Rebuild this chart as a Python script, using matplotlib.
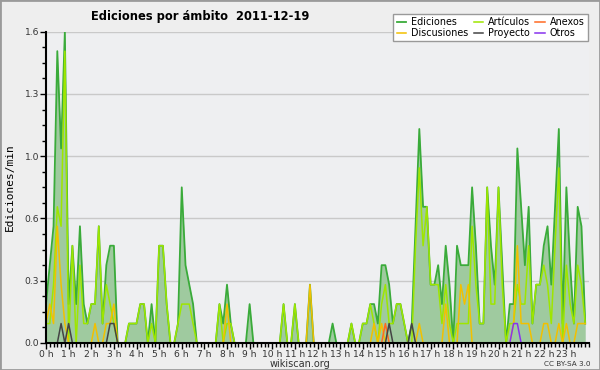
import numpy as np
import matplotlib
matplotlib.use('Agg')
import matplotlib.pyplot as plt
from matplotlib.ticker import MultipleLocator, FuncFormatter
from matplotlib.patches import Rectangle

# edits per minute, one value per 10 minutes, one row per hour
total = [
    [0.2, 0.4, 0.6, 1.5, 1.0, 1.6], [0.2, 0.5, 0.2, 0.6, 0.2, 0.1],
    [0.2, 0.2, 0.6, 0.1, 0.4, 0.5], [0.5, 0.0, 0.0, 0.0, 0.1, 0.1],
    [0.1, 0.2, 0.2, 0.0, 0.2, 0.0], [0.5, 0.5, 0.2, 0.0, 0.0, 0.1],
    [0.8, 0.4, 0.3, 0.2, 0.0, 0.0], [0.0, 0.0, 0.0, 0.0, 0.2, 0.1],
    [0.3, 0.1, 0.0, 0.0, 0.0, 0.0], [0.2, 0.0, 0.0, 0.0, 0.0, 0.0],
    [0.0, 0.0, 0.0, 0.2, 0.0, 0.0], [0.2, 0.0, 0.0, 0.0, 0.3, 0.0],
    [0.0, 0.0, 0.0, 0.0, 0.1, 0.0], [0.0, 0.0, 0.0, 0.1, 0.0, 0.0],
    [0.1, 0.1, 0.2, 0.2, 0.1, 0.4], [0.4, 0.3, 0.1, 0.2, 0.2, 0.1],
    [0.0, 0.1, 0.6, 1.1, 0.7, 0.7], [0.3, 0.3, 0.4, 0.2, 0.5, 0.3],
    [0.0, 0.5, 0.4, 0.4, 0.4, 0.8], [0.5, 0.1, 0.1, 0.8, 0.5, 0.3],
    [0.8, 0.4, 0.0, 0.2, 0.2, 1.0], [0.7, 0.4, 0.7, 0.1, 0.3, 0.3],
    [0.5, 0.6, 0.3, 0.7, 1.1, 0.1], [0.8, 0.4, 0.1, 0.7, 0.6, 0.1],
]
articulos = [
    [0.1, 0.1, 0.3, 0.7, 0.6, 1.5], [0.0, 0.5, 0.0, 0.4, 0.1, 0.1],
    [0.2, 0.2, 0.6, 0.1, 0.3, 0.2], [0.1, 0.0, 0.0, 0.0, 0.1, 0.1],
    [0.1, 0.2, 0.2, 0.0, 0.1, 0.0], [0.5, 0.5, 0.2, 0.0, 0.0, 0.1],
    [0.2, 0.2, 0.2, 0.1, 0.0, 0.0], [0.0, 0.0, 0.0, 0.0, 0.2, 0.0],
    [0.1, 0.1, 0.0, 0.0, 0.0, 0.0], [0.0, 0.0, 0.0, 0.0, 0.0, 0.0],
    [0.0, 0.0, 0.0, 0.2, 0.0, 0.0], [0.2, 0.0, 0.0, 0.0, 0.0, 0.0],
    [0.0, 0.0, 0.0, 0.0, 0.0, 0.0], [0.0, 0.0, 0.0, 0.1, 0.0, 0.0],
    [0.1, 0.1, 0.2, 0.1, 0.0, 0.2], [0.3, 0.1, 0.1, 0.2, 0.2, 0.1],
    [0.0, 0.0, 0.5, 0.9, 0.5, 0.7], [0.3, 0.3, 0.3, 0.1, 0.3, 0.1],
    [0.0, 0.1, 0.1, 0.1, 0.1, 0.6], [0.3, 0.1, 0.1, 0.8, 0.2, 0.2],
    [0.8, 0.3, 0.0, 0.1, 0.1, 0.3], [0.2, 0.2, 0.5, 0.1, 0.3, 0.3],
    [0.4, 0.3, 0.1, 0.5, 0.9, 0.0], [0.4, 0.2, 0.1, 0.4, 0.3, 0.1],
]
discusiones = [
    [0.1, 0.2, 0.1, 0.6, 0.3, 0.1], [0.0, 0.0, 0.0, 0.0, 0.0, 0.0],
    [0.0, 0.1, 0.0, 0.0, 0.1, 0.1], [0.2, 0.0, 0.0, 0.0, 0.0, 0.0],
    [0.0, 0.0, 0.0, 0.0, 0.0, 0.0], [0.0, 0.0, 0.0, 0.0, 0.0, 0.0],
    [0.0, 0.0, 0.0, 0.0, 0.0, 0.0], [0.0, 0.0, 0.0, 0.0, 0.0, 0.0],
    [0.2, 0.0, 0.0, 0.0, 0.0, 0.0], [0.0, 0.0, 0.0, 0.0, 0.0, 0.0],
    [0.0, 0.0, 0.0, 0.0, 0.0, 0.0], [0.0, 0.0, 0.0, 0.0, 0.3, 0.0],
    [0.0, 0.0, 0.0, 0.0, 0.0, 0.0], [0.0, 0.0, 0.0, 0.0, 0.0, 0.0],
    [0.0, 0.0, 0.0, 0.1, 0.0, 0.1], [0.0, 0.0, 0.0, 0.0, 0.0, 0.0],
    [0.0, 0.0, 0.0, 0.1, 0.0, 0.0], [0.0, 0.0, 0.0, 0.0, 0.2, 0.0],
    [0.0, 0.0, 0.3, 0.2, 0.3, 0.0], [0.0, 0.0, 0.0, 0.0, 0.0, 0.0],
    [0.0, 0.0, 0.0, 0.0, 0.1, 0.5], [0.1, 0.1, 0.1, 0.0, 0.0, 0.0],
    [0.1, 0.1, 0.0, 0.0, 0.1, 0.0], [0.1, 0.0, 0.0, 0.1, 0.1, 0.1],
]
# sparse namespaces: (hour, slot in hour) -> value
anexos = {(15, 0): 0.1}
proyecto = {(0, 4): 0.1, (1, 0): 0.1, (2, 5): 0.1, (3, 0): 0.1,
            (15, 1): 0.1, (16, 1): 0.1}
otros = {(20, 4): 0.1, (20, 5): 0.1}

hour_labels = ['%d h' % h for h in range(24)]
title = 'Ediciones por ámbito  2011-12-19'


def sparse(d):
    a = np.zeros((24, 6))
    for (h, s), v in d.items():
        a[h, s] = v
    return a.ravel()


x = np.arange(24 * 6) / 6.0
tot = np.array(total).ravel()

fig = plt.figure(figsize=(6, 3.7), dpi=100, facecolor='#eeeeee')
fig.patches.append(Rectangle((0, 0), 1, 1, transform=fig.transFigure,
                             fill=False, edgecolor='#9a9a9a', lw=2))
ax = fig.add_axes([46 / 600, 27 / 370, 543 / 600, 311.3 / 370])
ax.set_facecolor('#eeeff1')

ax.fill_between(x, tot, color='#9fca9f', lw=0)
ax.plot(x, tot, color='#3aab3a', lw=1.3, label='Ediciones')
ax.plot(x, np.array(articulos).ravel(), color='#9ee600', lw=1.1, label='Artículos')
ax.plot(x, np.array(discusiones).ravel(), color='#f2c000', lw=1.1, label='Discusiones')
ax.plot(x, sparse(anexos), color='#ff6a22', lw=1.1, label='Anexos')
ax.plot(x, sparse(proyecto), color='#444444', lw=1.1, label='Proyecto')
ax.plot(x, sparse(otros), color='#8833ee', lw=1.1, label='Otros')

ax.set_xlim(0, 24)
ax.set_ylim(0, 1.6)
ax.set_xticks(range(24))
ax.set_xticklabels(hour_labels)
ax.xaxis.set_minor_locator(MultipleLocator(1 / 6))
ax.yaxis.set_major_locator(MultipleLocator(0.32))
ax.yaxis.set_minor_locator(MultipleLocator(0.08))
ax.yaxis.set_major_formatter(FuncFormatter(lambda v, p: '%.1f' % v))
ax.grid(axis='y', color='#c9c9c9', lw=1)
ax.set_axisbelow(True)

for s in ['top', 'right']:
    ax.spines[s].set_visible(False)
for s in ['left', 'bottom']:
    ax.spines[s].set_linewidth(1.5)
    ax.spines[s].set_zorder(5)
ax.tick_params(which='major', length=4, width=1, labelsize=6.6,
               labelcolor='#333333', pad=1)
ax.tick_params(which='minor', length=3, width=1)

ax.set_ylabel('Ediciones/min', family='DejaVu Sans Mono', fontsize=8, labelpad=7)

handles, labels = ax.get_legend_handles_labels()
order = [0, 2, 1, 4, 3, 5]
fig.legend([handles[i] for i in order], [labels[i] for i in order],
           ncol=3, loc='upper right', bbox_to_anchor=(0.988, 0.975),
           fontsize=6.9, handlelength=1.0, handletextpad=0.5,
           columnspacing=0.55, labelspacing=0.05, borderpad=0.35,
           fancybox=False, framealpha=1, facecolor='white', edgecolor='#999999')

fig.text(0.333, 0.955, title, ha='center', va='center', fontsize=8.3,
         fontweight='bold')
fig.text(0.5, 0.017, 'wikiscan.org', ha='center', va='center', fontsize=7,
         color='#333333')
fig.text(0.985, 0.017, 'CC BY-SA 3.0', ha='right', va='center', fontsize=5.2,
         color='#333333')

fig.savefig('out.png', dpi=100, facecolor=fig.get_facecolor())
